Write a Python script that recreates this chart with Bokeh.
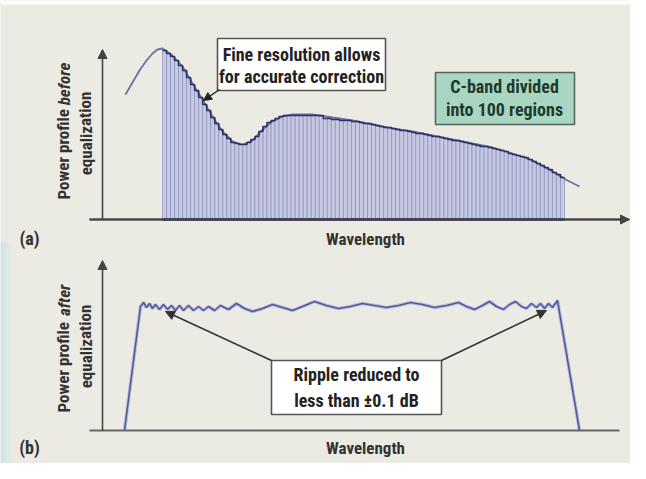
from bokeh.plotting import figure
from bokeh.models import Range1d, Arrow, NormalHead
from bokeh.core.properties import value
from bokeh.embed import file_html
from bokeh.resources import INLINE

# ---------------- data ----------------
# Panel (a): 100 equalizer regions, power before equalization (arbitrary units)
region_start = 170.0
region_end = 572.0
region_power = [169, 166, 163, 159, 154, 149, 142, 135, 129, 122,
                115, 109, 102, 96, 90, 85, 81, 77, 76, 75,
                75, 77, 80, 83, 88, 93, 97, 99, 101, 103,
                104, 104, 104, 104, 104, 104, 104, 104, 104, 104,
                101, 101, 100, 100, 99, 99, 99, 98, 98, 97,
                96, 96, 95, 94, 93, 92, 92, 91, 90, 89,
                89, 88, 87, 86, 86, 85, 84, 83, 83, 82,
                81, 80, 79, 79, 78, 77, 76, 75, 74, 73,
                73, 72, 71, 70, 69, 68, 66, 65, 64, 63,
                62, 60, 58, 56, 54, 52, 50, 47, 45, 42]

# Panel (a): smooth spectrum envelope
spectrum_wl = [133, 140, 147, 154, 160, 165, 170, 180, 190, 200, 210, 220, 230, 240,
               250, 260, 270, 280, 290, 300, 320, 340, 360, 380, 400, 420, 440, 460,
               480, 500, 520, 540, 560, 575, 587]
spectrum_power = [125, 137, 149, 159, 166, 170, 171, 164, 153, 136, 120, 103, 88, 78,
                  75, 79, 90, 98, 103, 105, 105, 102, 99, 95, 91, 88, 84, 80,
                  76, 72, 66, 59, 48, 39, 33]

# Panel (b): power after equalization (with residual ripple)
after_wl = [132, 148, 151, 154, 157, 160, 163, 167, 171, 175,
            179, 183, 187, 191, 196, 201, 206, 211, 216, 222,
            228, 236, 244, 252, 260, 270, 280, 290, 300, 310,
            322, 334, 346, 358, 370, 382, 394, 406, 418, 430,
            442, 454, 466, 474, 482, 490, 497, 504, 511, 517,
            523, 529, 534, 539, 544, 548, 552, 556, 560, 565, 587]
after_power = [0, 124, 128, 123, 127, 122, 126, 121, 126, 121,
               125, 120, 125, 120, 125, 120, 124, 120, 124, 120,
               125, 121, 127, 122, 119, 122, 126, 123, 120, 124,
               129, 125, 122, 124, 127, 125, 123, 125, 128, 126,
               123, 125, 128, 124, 121, 125, 129, 124, 121, 126,
               129, 124, 122, 127, 123, 127, 122, 127, 123, 130, 0]

# ---------------- styling ----------------
BG = "#ecebe3"
FONT = "Roboto Condensed, DejaVu Sans Condensed, Liberation Sans Narrow, Liberation Sans"
TXT = "#333333"
AXC = "#666666"

W, H = 630, 463
BASE_A = 227   # screen row of baseline of panel (a)
BASE_B = 438   # screen row of baseline of panel (b)

# one canvas; vertical coordinate = -screen row, panels offset by their baselines


def ya(power):
    return -BASE_A + power


def yb(power):
    return -BASE_B + power


def row(sy):
    return -sy


p = figure(width=W, height=H, x_range=Range1d(8, 638), y_range=Range1d(-471, -8),
           output_backend="svg", toolbar_location=None, min_border=0)
p.background_fill_color = BG
p.border_fill_color = BG
p.outline_line_color = None
p.axis.visible = False
p.grid.visible = False


def label(x, y, txt, size=17, color=TXT, align="center", baseline="middle",
          angle=0.0, style="bold"):
    p.text(x=[x], y=[y], text=[txt], text_font=value(FONT), text_font_size=f"{size}px",
           text_font_style=style, text_color=color, text_align=align,
           text_baseline=baseline, angle=angle)


def arrow(x0, y0, x1, y1, color="#333333", size=9, width=1.6):
    p.add_layout(Arrow(end=NormalHead(size=size, fill_color=color, line_color=color),
                       x_start=x0, y_start=y0, x_end=x1, y_end=y1,
                       line_color=color, line_width=width))


# white strip at the very top, bluish edge lower left
p.quad(left=[8], right=[638], top=[row(8)], bottom=[row(12)], fill_color="white", line_color=None)
for k, a in enumerate([0.55, 0.4, 0.25, 0.12]):
    p.quad(left=[8 + 3 * k], right=[11 + 3 * k], top=[row(250)], bottom=[row(471)],
           fill_color="#bcdcec", fill_alpha=a, line_color=None)

# ================= Panel (a) =================
n = len(region_power)
bw = (region_end - region_start) / n
centers = [region_start + bw * (i + 0.5) for i in range(n)]
p.vbar(x=centers, width=bw, top=[ya(v) for v in region_power], bottom=ya(0),
       fill_color="#c6c9e0", line_color="#8a8fbd", line_width=0.7)

p.line(spectrum_wl, [ya(v) for v in spectrum_power], line_color="#6a6fa8", line_width=1.8)

sx, sy = [], []
for i, v in enumerate(region_power):
    sx += [region_start + bw * i, region_start + bw * (i + 1)]
    sy += [ya(v), ya(v)]
p.line(sx, sy, line_color="#2e3163", line_width=1.6)

p.line([97, 637], [ya(0), ya(0)], line_color=AXC, line_width=2)
p.line([region_start, region_end], [ya(0), ya(0)], line_color="#2e3163", line_width=2.5)
arrow(97, ya(0), 637, ya(0), color="#444444", size=9, width=2)
arrow(110, ya(0), 110, row(57), color="#444444", size=9, width=1.6)

label(71, row(207), "Power profile ", align="left", angle=1.5708)
label(71, row(70), "before", align="right", angle=1.5708, style="bold italic")
label(93, row(141), "equalization", angle=1.5708)
label(373, row(246), "Wavelength")
label(37, row(246), "(a)", size=18)

p.quad(left=[225], right=[393], top=[row(46)], bottom=[row(98)],
       fill_color="white", line_color="#555555", line_width=1.6)
label(309, row(62), "Fine resolution allows", size=18, color="#222222")
label(309, row(84), "for accurate correction", size=18, color="#222222")
arrow(227, row(97), 211, row(108), color="#222222", size=8, width=1.5)

p.quad(left=[443], right=[582], top=[row(80)], bottom=[row(132)],
       fill_color="#a8d6c2", line_color="#55665c", line_width=1.6)
label(512, row(94), "C-band divided", size=18, color="#1f3a2c")
label(512, row(117), "into 100 regions", size=18, color="#1f3a2c")

# ================= Panel (b) =================
p.line(after_wl, [yb(v) for v in after_power], line_color="#b9bde0", line_width=3.5)
p.line(after_wl, [yb(v) for v in after_power], line_color="#55599a", line_width=1.6)

p.line([97, 627], [yb(0), yb(0)], line_color=AXC, line_width=2)
arrow(110, yb(0), 110, row(268), color="#444444", size=9, width=1.6)

label(71, row(420), "Power profile ", align="left", angle=1.5708)
label(71, row(292), "after", align="right", angle=1.5708, style="bold italic")
label(93, row(354), "equalization", angle=1.5708)
label(373, row(455), "Wavelength")
label(37, row(455), "(b)", size=18)

p.quad(left=[279], right=[449], top=[row(368)], bottom=[row(422)],
       fill_color="white", line_color="#555555", line_width=1.6)
label(364, row(382), "Ripple reduced to", size=18, color="#222222")
label(364, row(408), "less than \u00b10.1 dB", size=18, color="#222222")
arrow(279, row(368), 173, row(319), color="#333333", size=9, width=1.6)
arrow(449, row(368), 554, row(318), color="#333333", size=9, width=1.6)

open("out.html", "w").write(file_html(p, INLINE))
